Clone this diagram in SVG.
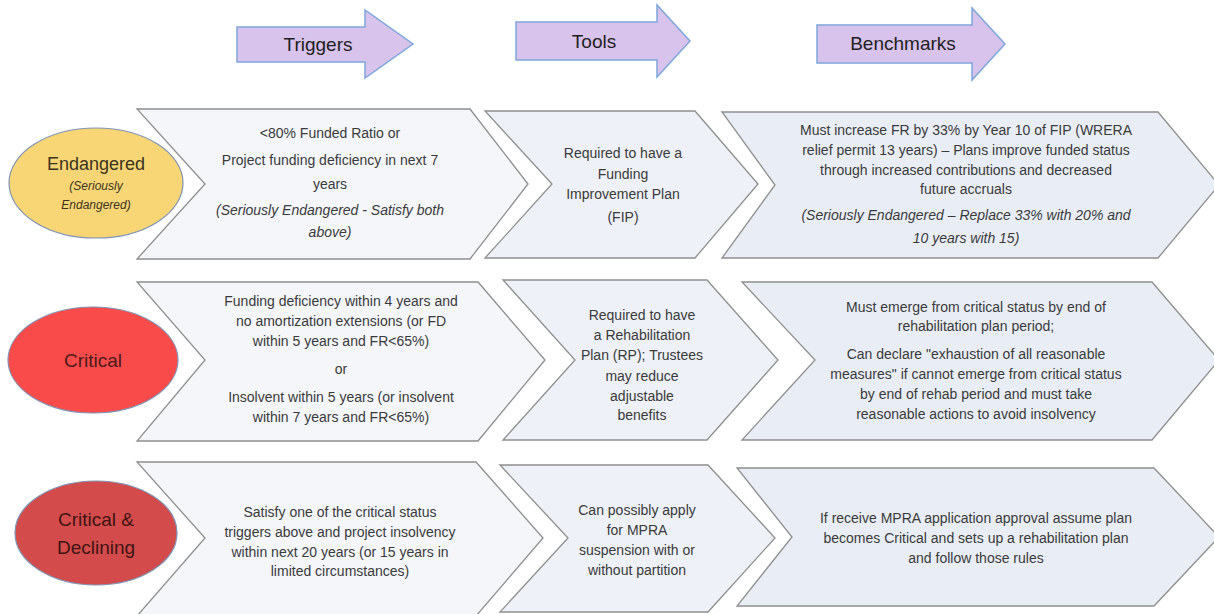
<svg xmlns="http://www.w3.org/2000/svg" width="1214" height="614" viewBox="0 0 1214 614">
<style>
.hdr{fill:#d8c3ec;stroke:#7fa7da;stroke-width:1.5}
.hdrt{font-family:"Liberation Sans",Arial,sans-serif;font-size:19px;fill:#1e1e1e;text-anchor:middle}
.chev{stroke:#8e8e8e;stroke-width:1.3}
.c1{fill:#f4f6fa}
.c2{fill:#eef1f7}
.c3{fill:#e9eef6}
.t{font-family:"Liberation Sans",Arial,sans-serif;font-size:14px;fill:#3a3a3a;text-anchor:middle}
.it{font-style:italic}
.ell{stroke:#7f93b3;stroke-width:1.2}
.et{font-family:"Liberation Sans",Arial,sans-serif;font-size:19px;text-anchor:middle}
.es{font-family:"Liberation Sans",Arial,sans-serif;font-size:12px;font-style:italic;text-anchor:middle}
</style>
<rect width="1214" height="614" fill="#ffffff"/>

<g id="hdr-triggers">
<path class="hdr" d="M237,27 H365 V10 L413,44 L365,78 V62 H237 Z"/>
<text class="hdrt" x="318" y="51">Triggers</text>
</g>
<g id="hdr-tools">
<path class="hdr" d="M516,22 H657 V5 L690,41 L657,77 V60 H516 Z"/>
<text class="hdrt" x="594" y="48">Tools</text>
</g>
<g id="hdr-benchmarks">
<path class="hdr" d="M817,25 H972 V8 L1005,44 L972,80 V63 H817 Z"/>
<text class="hdrt" x="903" y="50">Benchmarks</text>
</g>

<g id="connectors"></g>

<!-- Row 1 -->
<g id="endangered">
<ellipse class="ell" cx="96" cy="183" rx="87" ry="55" fill="#f8d676"/>
<text class="et" x="96" y="170" fill="#3b3320" style="font-size:18px">Endangered</text>
<text class="es" x="96" y="190" fill="#3b3320">(Seriously</text>
<text class="es" x="96" y="209" fill="#3b3320">Endangered)</text>
</g>
<g id="r1-triggers">
<path class="chev c1" d="M137,109 H470 L528,184 L470,259 H137 L205,184 Z"/>
<text class="t" x="330" y="138">&lt;80% Funded Ratio or</text>
<text class="t" x="330" y="165">Project funding deficiency in next 7</text>
<text class="t" x="330" y="189">years</text>
<text class="t it" x="330" y="215">(Seriously Endangered - Satisfy both</text>
<text class="t it" x="330" y="237">above)</text>
</g>
<g id="r1-tools">
<path class="chev c2" d="M485,111 H695 L758,184 L695,258 H485 L552,184 Z"/>
<text class="t" x="623" y="158">Required to have a</text>
<text class="t" x="623" y="179">Funding</text>
<text class="t" x="623" y="199">Improvement Plan</text>
<text class="t" x="623" y="222">(FIP)</text>
</g>
<g id="r1-benchmarks">
<path class="chev c3" d="M722,112 H1158 L1219,185 L1158,258 H722 L775,185 Z"/>
<text class="t" x="966" y="135">Must increase  FR by 33% by Year  10 of FIP (WRERA</text>
<text class="t" x="966" y="155">relief permit 13 years) – Plans improve funded status</text>
<text class="t" x="966" y="175">through increased  contributions and decreased</text>
<text class="t" x="966" y="194">future accruals</text>
<text class="t it" x="966" y="220">(Seriously Endangered – Replace 33% with 20% and</text>
<text class="t it" x="966" y="243">10 years with 15)</text>
</g>

<!-- Row 2 -->
<g id="critical">
<ellipse class="ell" cx="93" cy="360" rx="85" ry="53" fill="#fa4b4b"/>
<text class="et" x="93" y="367" fill="#4a1a1a">Critical</text>
</g>
<g id="r2-triggers">
<path class="chev c1" d="M137,282 H478 L545,360 L478,441 H137 L205,360 Z"/>
<text class="t" x="341" y="306">Funding deficiency  within 4 years and</text>
<text class="t" x="341" y="326">no amortization extensions (or FD</text>
<text class="t" x="341" y="346">within 5 years and FR&lt;65%)</text>
<text class="t" x="341" y="374">or</text>
<text class="t" x="341" y="402">Insolvent within 5 years (or insolvent</text>
<text class="t" x="341" y="422">within 7 years and FR&lt;65%)</text>
</g>
<g id="r2-tools">
<path class="chev c2" d="M503,280 H707 L778,360 L707,440 H503 L575,360 Z"/>
<text class="t" x="642" y="320">Required to have</text>
<text class="t" x="642" y="340">a  Rehabilitation</text>
<text class="t" x="642" y="360">Plan (RP); Trustees</text>
<text class="t" x="642" y="381">may reduce</text>
<text class="t" x="642" y="401">adjustable</text>
<text class="t" x="642" y="420">benefits</text>
</g>
<g id="r2-benchmarks">
<path class="chev c3" d="M742,282 H1152 L1219,360 L1152,440 H742 L815,360 Z"/>
<text class="t" x="976" y="312">Must emerge from critical status by end of</text>
<text class="t" x="976" y="331">rehabilitation plan period;</text>
<text class="t" x="976" y="359">Can declare "exhaustion  of all reasonable</text>
<text class="t" x="976" y="379">measures" if cannot emerge from critical status</text>
<text class="t" x="976" y="399">by end of rehab period and must take</text>
<text class="t" x="976" y="419">reasonable actions to avoid insolvency</text>
</g>

<!-- Row 3 -->
<g id="critical-declining">
<ellipse class="ell" cx="96" cy="533" rx="81" ry="52" fill="#d34b4b"/>
<text class="et" x="96" y="526" fill="#3f1414">Critical &amp;</text>
<text class="et" x="96" y="554" fill="#3f1414">Declining</text>
</g>
<g id="r3-triggers">
<path class="chev c1" d="M137,462 H476 L543,538 L476,616 H137 L205,538 Z"/>
<text class="t" x="340" y="517">Satisfy one of the critical status</text>
<text class="t" x="340" y="537">triggers above and project insolvency</text>
<text class="t" x="340" y="557">within next  20 years (or 15 years in</text>
<text class="t" x="340" y="576">limited circumstances)</text>
</g>
<g id="r3-tools">
<path class="chev c2" d="M500,465 H708 L775,538 L708,612 H500 L568,538 Z"/>
<text class="t" x="637" y="515">Can possibly apply</text>
<text class="t" x="637" y="535">for MPRA</text>
<text class="t" x="637" y="555">suspension with or</text>
<text class="t" x="637" y="575">without partition</text>
</g>
<g id="r3-benchmarks">
<path class="chev c3" d="M737,468 H1154 L1219,537 L1154,606 H737 L792,537 Z"/>
<text class="t" x="976" y="523">If receive MPRA application approval assume plan</text>
<text class="t" x="976" y="543">becomes Critical and sets up a rehabilitation plan</text>
<text class="t" x="976" y="563">and follow those rules</text>
</g>
</svg>
